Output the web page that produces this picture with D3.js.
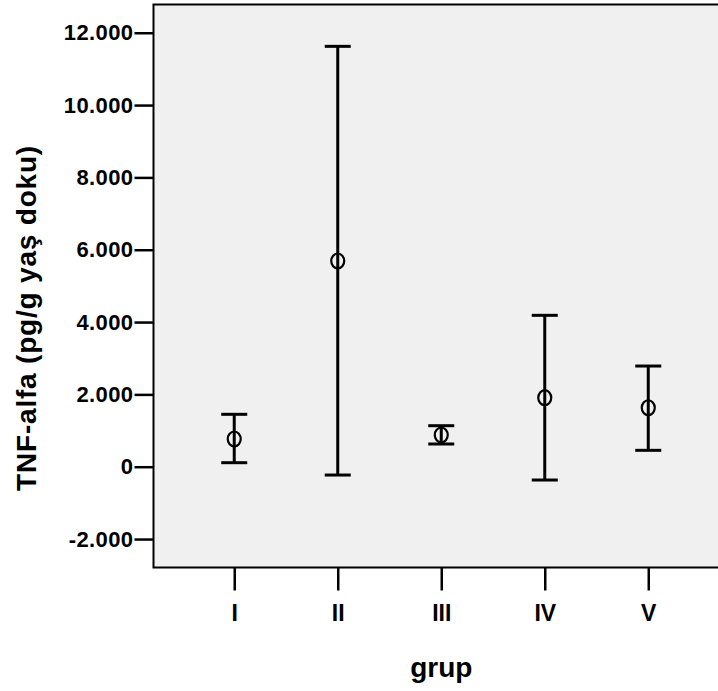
<!DOCTYPE html>
<html>
<head>
<meta charset="utf-8">
<script src="https://cdn.jsdelivr.net/npm/d3@7"></script>
<style>
  body { margin: 0; background: #fff; }
  text { font-family: Arial, "Liberation Sans", sans-serif; font-weight: bold; fill: #000; }
</style>
</head>
<body>
<div id="wrapper"></div>
<script>
// data
const groups = ["I", "II", "III", "IV", "V"]
const means = [766, 5688, 877, 1908, 1631]
const lower = [111, -230, 628, -368, 453]
const upper = [1449, 11624, 1134, 4186, 2784]
const yTicks = [-2000, 0, 2000, 4000, 6000, 8000, 10000, 12000]

const dataset = groups.map((g, i) => ({ grup: g, mean: means[i], lo: lower[i], hi: upper[i] }))

const dimensions = {
  width: 718,
  height: 691,
  margin: { top: 4.5, right: -11, bottom: 123.5, left: 153.5 },
}
dimensions.boundedWidth = dimensions.width - dimensions.margin.left - dimensions.margin.right
dimensions.boundedHeight = dimensions.height - dimensions.margin.top - dimensions.margin.bottom

const wrapper = d3.select("#wrapper")
  .append("svg")
    .attr("width", dimensions.width)
    .attr("height", dimensions.height)

const bounds = wrapper.append("g")
  .attr("transform", `translate(${dimensions.margin.left},${dimensions.margin.top})`)

const xScaler = d3.scalePoint()
  .domain(groups)
  .range([0, dimensions.boundedWidth])
  .padding(0.78)

const yScaler = d3.scaleLinear()
  .domain([-2787, 12781])
  .range([dimensions.boundedHeight, 0])

// plot background
bounds.append("rect")
  .attr("width", dimensions.boundedWidth)
  .attr("height", dimensions.boundedHeight)
  .attr("fill", "#f0f0f0")
  .attr("stroke", "#000")
  .attr("stroke-width", 2)

// y axis, SPSS style "12.000" with hyphen minus
const yAxisGen = d3.axisLeft(yScaler)
  .tickValues(yTicks)
  .tickSize(19)
  .tickPadding(1)
  .tickFormat(d => d === 0 ? "0" : (d < 0 ? "-" : "") + d3.format(",")(Math.abs(d)).replace(/,/g, "."))
const yAxis = bounds.append("g").call(yAxisGen)
yAxis.select(".domain").remove()
yAxis.selectAll("line").attr("stroke", "#000").attr("stroke-width", 2.5)
yAxis.selectAll("text").style("font-size", "22px").style("letter-spacing", "0.4px")

// x axis
const xAxisGen = d3.axisBottom(xScaler)
  .tickSize(23)
  .tickPadding(14)
const xAxis = bounds.append("g")
  .attr("transform", `translate(0,${dimensions.boundedHeight})`)
  .call(xAxisGen)
xAxis.select(".domain").remove()
xAxis.selectAll("line").attr("stroke", "#000").attr("stroke-width", 2.5)
xAxis.selectAll("text").style("font-size", "23px")

// error bars
const capHalf = 13
const bars = bounds.append("g").selectAll("g")
  .data(dataset)
  .join("g")
  .attr("stroke", "#000")
  .attr("fill", "none")

bars.append("line")
  .attr("x1", d => xScaler(d.grup))
  .attr("x2", d => xScaler(d.grup))
  .attr("y1", d => yScaler(d.hi))
  .attr("y2", d => yScaler(d.lo))
  .attr("stroke-width", 3)

bars.append("line")
  .attr("x1", d => xScaler(d.grup) - capHalf)
  .attr("x2", d => xScaler(d.grup) + capHalf)
  .attr("y1", d => yScaler(d.hi))
  .attr("y2", d => yScaler(d.hi))
  .attr("stroke-width", 3)

bars.append("line")
  .attr("x1", d => xScaler(d.grup) - capHalf)
  .attr("x2", d => xScaler(d.grup) + capHalf)
  .attr("y1", d => yScaler(d.lo))
  .attr("y2", d => yScaler(d.lo))
  .attr("stroke-width", 3)

bars.append("ellipse")
  .attr("cx", d => xScaler(d.grup))
  .attr("cy", d => yScaler(d.mean))
  .attr("rx", 6.5)
  .attr("ry", 7.5)
  .attr("fill", "#f0f0f0")
  .attr("stroke-width", 2.2)

bars.append("line")
  .attr("x1", d => xScaler(d.grup))
  .attr("x2", d => xScaler(d.grup))
  .attr("y1", d => yScaler(d.mean) - 7.5)
  .attr("y2", d => yScaler(d.mean) + 7.5)
  .attr("stroke-width", 3)

// axis titles
wrapper.append("text")
  .attr("transform", "translate(36,318) rotate(-90)")
  .attr("text-anchor", "middle")
  .style("font-size", "28px")
  .style("letter-spacing", "0.8px")
  .text("TNF-alfa (pg/g yaş doku)")

wrapper.append("text")
  .attr("x", xScaler("III") + dimensions.margin.left)
  .attr("y", 677)
  .attr("text-anchor", "middle")
  .style("font-size", "28px")
  .text("grup")
</script>
</body>
</html>
